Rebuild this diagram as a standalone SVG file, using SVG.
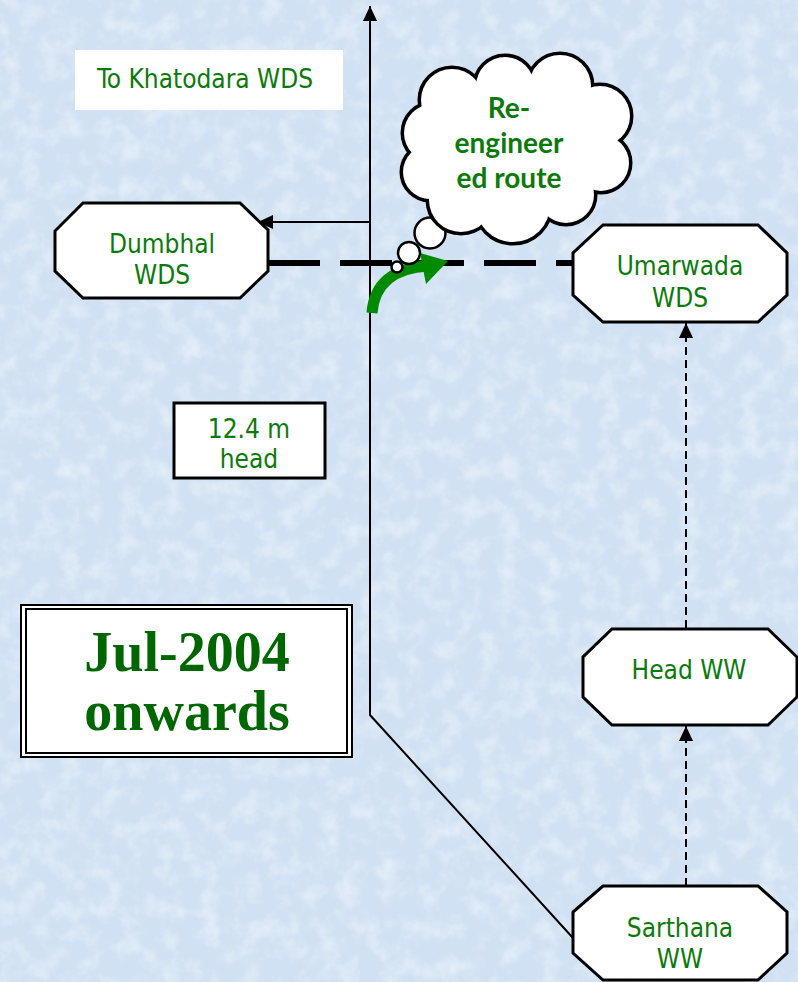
<svg xmlns="http://www.w3.org/2000/svg" width="798" height="982" viewBox="0 0 798 982">
<defs>
<style>
.lbl{font-family:"DejaVu Sans Condensed","DejaVu Sans",sans-serif;font-stretch:condensed;font-size:26px;fill:#0b7a0b;text-anchor:middle}
.oct{fill:#fff;stroke:#000;stroke-width:3;stroke-linejoin:miter}
.ln{stroke:#000;stroke-width:2;fill:none}
.dash{stroke:#000;stroke-width:2;stroke-dasharray:8 5;fill:none}
.cl{fill:#fff;stroke:#000;stroke-width:5}
.bub{fill:#fff;stroke:#000;stroke-width:2.5}
.clf{fill:#fff}
.ct{font-family:Lato,sans-serif;font-weight:bold;font-size:28px;fill:#0b7a0b;text-anchor:middle}
</style>
<marker id="ah" markerWidth="16" markerHeight="16" refX="15" refY="7" orient="auto" markerUnits="userSpaceOnUse">
<path d="M0,0 L15,7 L0,14 Z" fill="#000"/>
</marker>
<filter id="tex" x="0" y="0" width="100%" height="100%">
<feTurbulence type="fractalNoise" baseFrequency="0.05" numOctaves="4" seed="7" result="n"/>
<feColorMatrix in="n" type="matrix" values="0 0 0 0 1  0 0 0 0 1  0 0 0 0 1  0 0 0 0.9 -0.38"/>
</filter>
</defs>
<rect x="0" y="0" width="798" height="982" fill="#d0e1f3"/>
<rect x="0" y="0" width="798" height="982" filter="url(#tex)"/>

<g id="connectors">
<polyline class="ln" points="573,938 370,715 370,6" marker-end="url(#ah)"/>
<line class="ln" x1="370" y1="222" x2="258" y2="222" marker-end="url(#ah)"/>
<line x1="268" y1="263" x2="574" y2="263" stroke="#000" stroke-width="6" stroke-dasharray="52 20"/>
<line class="dash" x1="686" y1="886" x2="686" y2="726" marker-end="url(#ah)"/>
<line class="dash" x1="686" y1="628" x2="686" y2="323" marker-end="url(#ah)"/>
</g>

<g id="khatodara">
<rect x="75" y="50" width="268" height="60" fill="#fff"/>
<text class="lbl" x="205" y="88">To Khatodara WDS</text>
</g>

<g id="dumbhal">
<polygon class="oct" points="83,203 240,203 268,230 268,271 240,298 83,298 55,271 55,231"/>
<text class="lbl" x="162" y="253">Dumbhal</text>
<text class="lbl" x="162" y="284">WDS</text>
</g>

<g id="umarwada">
<polygon class="oct" points="603,225 758,225 787,253 787,295 758,322 603,322 573,295 573,253"/>
<text class="lbl" x="680" y="275">Umarwada</text>
<text class="lbl" x="680" y="307">WDS</text>
</g>

<g id="headww">
<polygon class="oct" points="612,629 768,629 797,657 797,697 768,725 612,725 583,697 583,657"/>
<text class="lbl" x="689" y="679">Head WW</text>
</g>

<g id="sarthana">
<polygon class="oct" points="603,886 758,886 787,912 787,953 758,980 603,980 573,953 573,912"/>
<text class="lbl" x="680" y="937">Sarthana</text>
<text class="lbl" x="680" y="968">WW</text>
</g>

<g id="head-note">
<rect x="174" y="403" width="151" height="75" fill="#fff" stroke="#000" stroke-width="3"/>
<text class="lbl" x="249" y="438">12.4 m</text>
<text class="lbl" x="249" y="468">head</text>
</g>

<g id="title">
<rect x="21" y="605" width="331" height="152" fill="#fff" stroke="#000" stroke-width="2"/>
<rect x="26" y="609" width="321" height="144" fill="none" stroke="#000" stroke-width="2"/>
<text x="187" y="671" font-family="Liberation Serif, serif" font-weight="bold" font-size="56" fill="#006600" text-anchor="middle">Jul-2004</text>
<text x="187" y="730" font-family="Liberation Serif, serif" font-weight="bold" font-size="56" fill="#006600" text-anchor="middle">onwards</text>
</g>

<g id="green-arrow">
<path d="M372,313 C374,285 392,268 428,266" fill="none" stroke="#008a00" stroke-width="11"/>
<polygon points="448,261 420,253 426,284" fill="#008a00"/>
</g>

<g id="cloud">
<circle class="bub" cx="397" cy="267" r="5.5"/>
<circle class="bub" cx="409" cy="253" r="11"/>
<circle class="bub" cx="430" cy="233" r="15.5"/>
<circle class="cl" cx="452" cy="100" r="32"/>
<circle class="cl" cx="505" cy="86" r="30"/>
<circle class="cl" cx="560" cy="86" r="32"/>
<circle class="cl" cx="600" cy="116" r="31"/>
<circle class="cl" cx="601" cy="163" r="29"/>
<circle class="cl" cx="566" cy="195" r="29"/>
<circle class="cl" cx="513" cy="205" r="38"/>
<circle class="cl" cx="461" cy="200" r="33"/>
<circle class="cl" cx="430" cy="172" r="28"/>
<circle class="cl" cx="433" cy="133" r="30"/>
<circle class="clf" cx="452" cy="100" r="31"/>
<circle class="clf" cx="505" cy="86" r="29"/>
<circle class="clf" cx="560" cy="86" r="31"/>
<circle class="clf" cx="600" cy="116" r="30"/>
<circle class="clf" cx="601" cy="163" r="28"/>
<circle class="clf" cx="566" cy="195" r="28"/>
<circle class="clf" cx="513" cy="205" r="37"/>
<circle class="clf" cx="461" cy="200" r="32"/>
<circle class="clf" cx="430" cy="172" r="27"/>
<circle class="clf" cx="433" cy="133" r="29"/>
<ellipse class="clf" cx="517" cy="148" rx="85" ry="66"/>
<text class="ct" x="509" y="118">Re-</text>
<text class="ct" x="509" y="153">engineer</text>
<text class="ct" x="509" y="188">ed route</text>
</g>
</svg>
